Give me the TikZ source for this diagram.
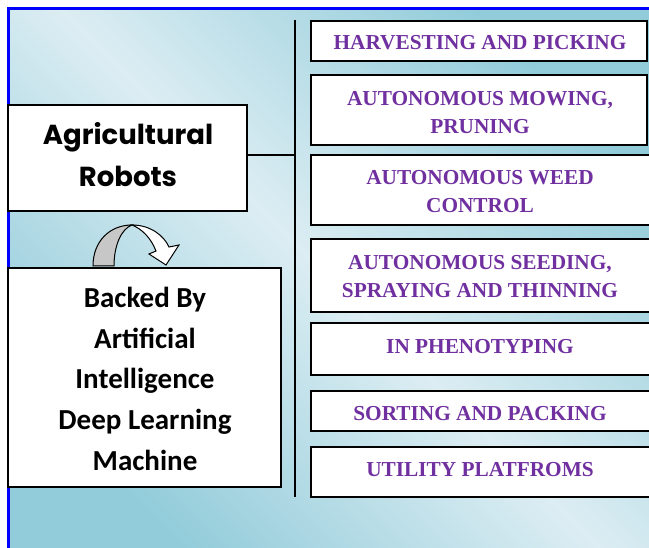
\documentclass[tikz,border=0pt]{standalone}
\usepackage{fontspec}
\setmainfont{Liberation Serif}
\newfontfamily\calfont{Carlito}
\newfontfamily\popfont{Poppins}
\definecolor{ipurple}{RGB}{112,48,160}
\definecolor{bglight}{RGB}{220,237,243}
\definecolor{bgdark}{RGB}{146,204,218}
\definecolor{framblue}{RGB}{0,0,255}
\begin{document}
\begin{tikzpicture}[x=1pt,y=-1pt,
  box/.style={draw=black, line width=2.2pt, fill=white, inner sep=0pt},
  ptxt/.style={text=ipurple, font=\bfseries\fontsize{21.3}{28.5}\selectfont, align=center, inner sep=0pt, anchor=base},
  agtxt/.style={font=\popfont\bfseries\fontsize{27.5}{42}\selectfont, align=center, inner sep=0pt, anchor=base},
  bktxt/.style={font=\calfont\bfseries\fontsize{29}{41}\selectfont, align=center, inner sep=0pt, anchor=base},
  conn/.style={draw=black, line width=2pt}]
\useasboundingbox (0,0) rectangle (649,548);
\fill[white] (0,0) rectangle (649,548);
\begin{scope}
\clip (8,8) rectangle (649,548);
\shade[top color=bgdark, bottom color=bgdark, middle color=bglight, shading angle=-45] (8,8) rectangle (649,548);
\end{scope}
\draw[framblue, line width=2.6pt] (8.7,560) -- (8.7,8.7) -- (660,8.7);
% vertical spine
\coordinate (vtop) at (295,20);
\coordinate (vbot) at (295,497);
\draw[conn] (vtop) -- (vbot);
% left boxes
\node[box, minimum width=239pt, minimum height=106pt] (agri) at (127.5,158) {};
\node[agtxt] (agrit) at (128,187) {Agricultural\\Robots};
\node[box, minimum width=273pt, minimum height=219pt] (back) at (144.5,377.5) {};
\node[bktxt] (backt) at (145,471) {Backed By\\Artificial\\Intelligence\\Deep Learning\\Machine};
\draw[conn] ([yshift=3pt]agri.east) -- ([yshift=3pt]agri.east -| vtop);
% curved arrow
\draw[line width=1pt, fill=black!22] (93,266) .. controls (93,241) and (110,225) .. (132,225)
   .. controls (121,229) and (114,246) .. (114,266) -- cycle;
\draw[line width=1pt, fill=white] (132,225) .. controls (151,225) and (164,236) .. (169,247)
   -- (179,245) -- (166,265) -- (149,254) -- (156,251)
   .. controls (151,238) and (142,229) .. (132,225) -- cycle;
% right boxes
\node[box, minimum width=336pt, minimum height=40pt] (r1) at (479,41) {};
\begin{scope}
\clip (311,21) rectangle (647,51);
\node[ptxt] (t1) at (480,50) {HARVESTING AND PICKING};
\end{scope}
\node[box, minimum width=336pt, minimum height=70pt] (r2) at (479,110) {};
\node[ptxt] (t2) at (480,134) {AUTONOMOUS MOWING,\\PRUNING};
\node[box, minimum width=341pt, minimum height=70pt] (r3) at (481.5,190) {};
\node[ptxt] (t3) at (480,213) {AUTONOMOUS WEED\\CONTROL};
\node[box, minimum width=341pt, minimum height=73pt] (r4) at (481.5,275.5) {};
\node[ptxt] (t4) at (480,298) {AUTONOMOUS SEEDING,\\SPRAYING AND THINNING};
\node[box, minimum width=341pt, minimum height=52pt] (r5) at (481.5,349) {};
\node[ptxt] (t5) at (480,354) {IN PHENOTYPING};
\node[box, minimum width=341pt, minimum height=40pt] (r6) at (481.5,411) {};
\node[ptxt] (t6) at (480,421) {SORTING AND PACKING};
\node[box, minimum width=341pt, minimum height=50pt] (r7) at (481.5,472) {};
\node[ptxt] (t7) at (480,477) {UTILITY PLATFROMS};
\end{tikzpicture}
\end{document}
